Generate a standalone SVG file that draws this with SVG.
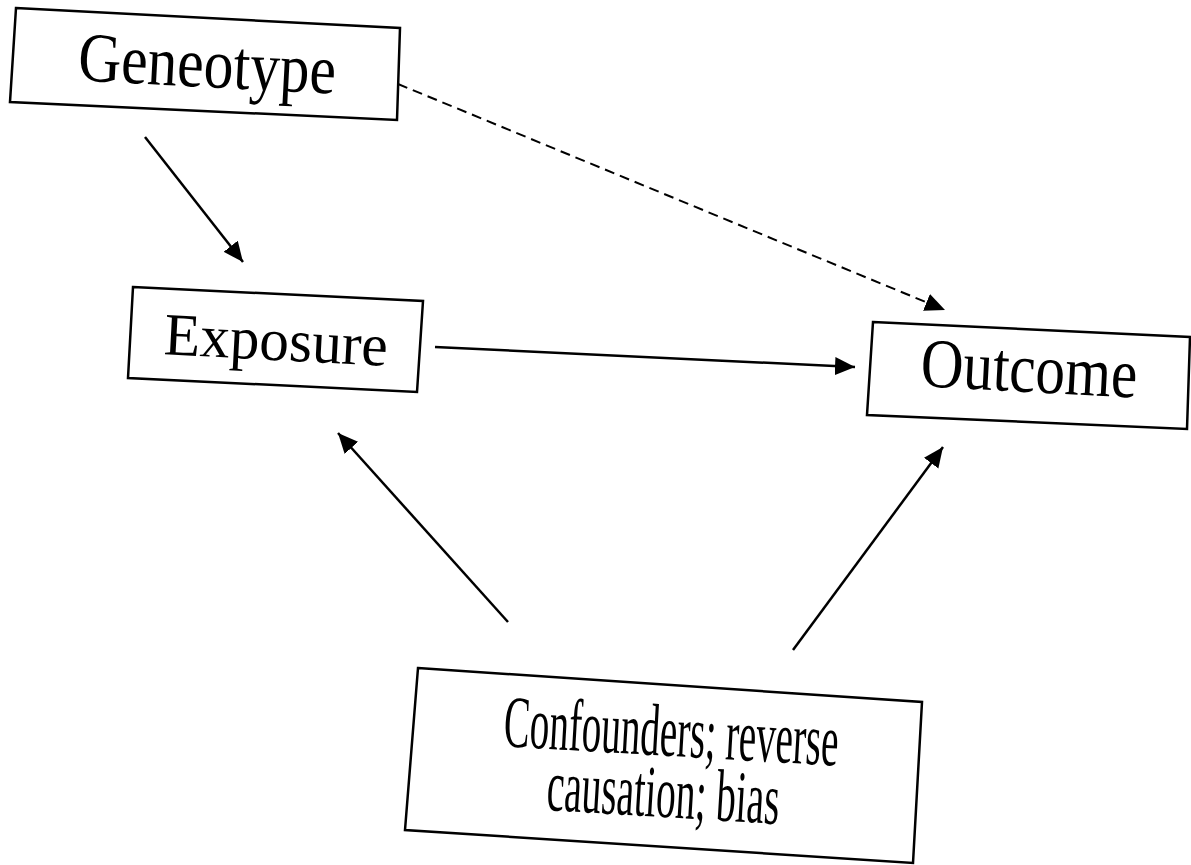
<svg xmlns="http://www.w3.org/2000/svg" width="1191" height="865" viewBox="0 0 1191 865">
<style>
.box{fill:#fff;stroke:#000;stroke-width:2.5;stroke-linejoin:miter}
.lbl{font-family:"Liberation Serif","Times New Roman",serif;fill:#000;text-anchor:middle}
.edge{stroke:#000;stroke-width:2.5;fill:none}
.dash{stroke-dasharray:10 6;stroke-width:2}
</style>
<defs>
<marker id="ah" markerUnits="userSpaceOnUse" markerWidth="22" markerHeight="20" refX="20" refY="9" orient="auto" viewBox="0 0 22 20">
<path d="M0,0 L20,9 L0,18 z" fill="#000"/>
</marker>
</defs>
<rect x="0" y="0" width="1191" height="865" fill="#fff"/>
<g id="edges">
<line class="edge" x1="145" y1="137" x2="243" y2="262" marker-end="url(#ah)"/>
<line class="edge dash" x1="398" y1="84" x2="945" y2="310" marker-end="url(#ah)"/>
<line class="edge" x1="435" y1="347" x2="855" y2="367" marker-end="url(#ah)"/>
<line class="edge" x1="508" y1="622" x2="338" y2="433" marker-end="url(#ah)"/>
<line class="edge" x1="793" y1="650" x2="943" y2="447" marker-end="url(#ah)"/>
</g>
<g id="geneotype">
<polygon class="box" points="16,8 400,28 397,120 10,102"/>
<text class="lbl" x="206" y="87" font-size="70" textLength="258" lengthAdjust="spacingAndGlyphs" transform="rotate(3 206 87)">Geneotype</text>
</g>
<g id="exposure">
<polygon class="box" points="133,287 423,301 417,392 128,378"/>
<text class="lbl" x="275" y="360" font-size="60" textLength="224" lengthAdjust="spacingAndGlyphs" transform="rotate(3 275 360)">Exposure</text>
</g>
<g id="outcome">
<polygon class="box" points="873,322 1190,337 1187,429 867,415"/>
<text class="lbl" x="1028" y="392" font-size="70" textLength="217" lengthAdjust="spacingAndGlyphs" transform="rotate(3 1028 392)">Outcome</text>
</g>
<g id="confounders">
<polygon class="box" points="418,668 922,702 913,863 405,830"/>
<text class="lbl" x="670" y="756" font-size="74" textLength="335" lengthAdjust="spacingAndGlyphs" transform="rotate(3.3 670 756)">Confounders; reverse</text>
<text class="lbl" x="662" y="817" font-size="74" textLength="233" lengthAdjust="spacingAndGlyphs" transform="rotate(3.5 662 817)">causation; bias</text>
</g>
</svg>
